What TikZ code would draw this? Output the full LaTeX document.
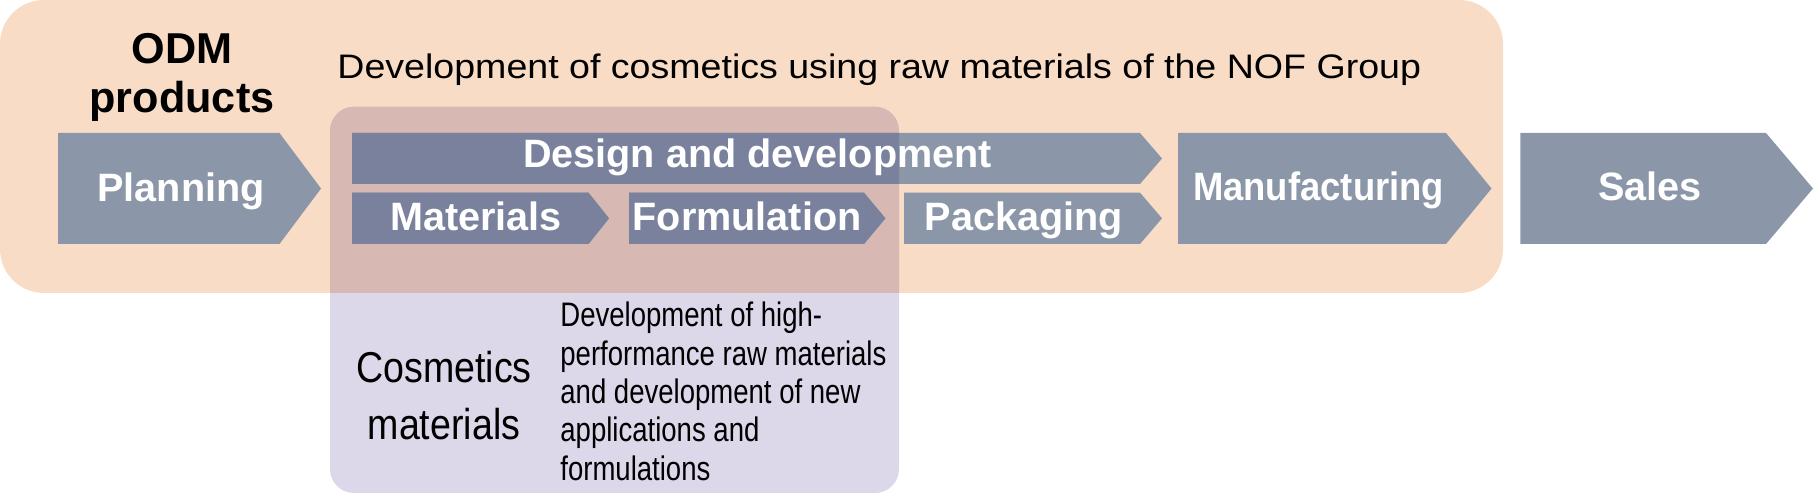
\documentclass[tikz,border=0pt]{standalone}
\usepackage{fontspec}
\setmainfont{Liberation Sans}
\newfontfamily\titlefont{Liberation Sans}[FakeStretch=1.105]
\newfontfamily\cosfont{Liberation Sans}[FakeStretch=0.87]
\newfontfamily\descfont{Liberation Sans}[FakeStretch=0.81]
\newfontfamily\mfgfont{Liberation Sans}[FakeStretch=0.92]
\definecolor{peach}{RGB}{248,220,198}
\definecolor{lav}{RGB}{220,215,233}
\definecolor{ovl}{RGB}{215,184,178}
\definecolor{chev}{RGB}{139,151,168}
\definecolor{chevdark}{RGB}{121,129,157}
\newcommand\chevron[6]{\fill[#1] (#2,#5) -- (#3,#5) -- (#4,{(#5+#6)/2}) -- (#3,#6) -- (#2,#6) -- cycle;}
\tikzset{
  lbl/.style={text=white, font=\bfseries\fontsize{19.8}{23}\selectfont, anchor=base, inner sep=0pt},
  blacktxt/.style={text=black, inner sep=0pt},
  orangebox/.style={fill=peach, rounded corners=22pt},
  lavbox/.style={rounded corners=12pt}
}
\begin{document}
\begin{tikzpicture}[x=0.5pt,y=-0.5pt]
\useasboundingbox (0,0) rectangle (1814,501);
% backgrounds
\fill[orangebox] (0,0) rectangle (1503,293);
\fill[lav, lavbox] (330,106.7) rectangle (899,493);
\begin{scope}
  \clip[rounded corners=22pt] (0,0) rectangle (1503,293);
  \fill[ovl, lavbox] (330,106.7) rectangle (899,493);
\end{scope}
% chevrons
\chevron{chev}{58}{279.5}{321}{133}{244}
\chevron{chev}{352}{1140}{1162}{133}{184}
\chevron{chev}{352}{588.5}{609}{192.7}{244}
\chevron{chev}{629}{864}{885.4}{192.7}{244}
\chevron{chev}{904}{1140}{1162}{192.7}{244}
\chevron{chev}{1178}{1446}{1491.5}{133}{244}
\chevron{chev}{1520.4}{1766}{1813}{133}{244}
\begin{scope}
  \clip[lavbox] (330,106.7) rectangle (899,493);
  \chevron{chevdark}{352}{1140}{1162}{133}{184}
  \chevron{chevdark}{352}{588.5}{609}{192.7}{244}
  \chevron{chevdark}{629}{864}{885.4}{192.7}{244}
\end{scope}
% labels
\node[lbl] (planning) at (181,201.7) {Planning};
\node[lbl] (design) at (757.5,168) {Design and development};
\node[lbl] (materials) at (476,231) {Materials};
\node[lbl] (formulation) at (747,231) {Formulation};
\node[lbl] (packaging) at (1024,230.5) {Packaging};
\node[lbl, font=\mfgfont\bfseries\fontsize{19.8}{23}\selectfont] (manufacturing) at (1318.6,200.5) {Manufacturing};
\node[lbl] (sales) at (1650,200.5) {Sales};
% texts (base anchor = baseline of the last line)
\node[blacktxt, font=\bfseries\fontsize{21.6}{24.5}\selectfont, align=center, anchor=base] (odm) at (182,113) {ODM\\products};
\node[blacktxt, font=\titlefont\fontsize{17}{20}\selectfont, anchor=base west] (title) at (337,78.5) {Development of cosmetics using raw materials of the NOF Group};
\node[blacktxt, font=\cosfont\fontsize{21.6}{28.3}\selectfont, align=center, anchor=base] (cosm) at (444,439.3) {Cosmetics\\materials};
\node[blacktxt, font=\descfont\fontsize{17}{19.19}\selectfont, align=left, anchor=base west] (desc) at (560,480.2) {Development of high-\\performance raw materials\\and development of new\\applications and\\formulations};
\end{tikzpicture}
\end{document}
